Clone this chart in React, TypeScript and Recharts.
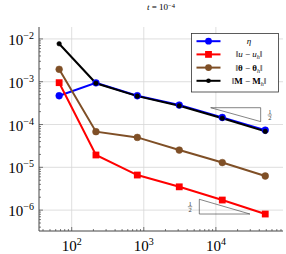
import React from 'react';
import { LineChart, Line, XAxis, YAxis, CartesianGrid, Legend, ReferenceLine, ReferenceDot } from 'recharts';

const FONT = '"Liberation Serif", "DejaVu Serif", serif';

const dofs = [67, 217, 813, 3105, 12270, 48400];
const etaVals = [4.7e-4, 9.4e-4, 4.7e-4, 2.85e-4, 1.46e-4, 7.4e-5];
const uVals = [9.5e-4, 1.94e-5, 6.6e-6, 3.5e-6, 1.72e-6, 8.1e-7];
const thetaVals = [1.95e-3, 6.8e-5, 5.0e-5, 2.53e-5, 1.29e-5, 6.27e-6];
const mVals = [7.7e-3, 9.2e-4, 4.6e-4, 2.75e-4, 1.4e-4, 6.9e-5];

const xDomain = [35.2, 85300];
const yDomain = [3.25e-7, 1.9e-2];

const xMajorTicks = [100, 1000, 10000];
const xMajorLabels = ['2', '3', '4'];
const xMinorTicks = [
  40, 50, 60, 70, 80, 90,
  200, 300, 400, 500, 600, 700, 800, 900,
  2000, 3000, 4000, 5000, 6000, 7000, 8000, 9000,
  20000, 30000, 40000, 50000, 60000, 70000, 80000,
];
const yMajorTicks = [1e-6, 1e-5, 1e-4, 1e-3, 1e-2];
const yMajorLabels = ['−6', '−5', '−4', '−3', '−2'];
const yMinorTicks = [
  4e-7, 5e-7, 6e-7, 7e-7, 8e-7, 9e-7,
  2e-6, 3e-6, 4e-6, 5e-6, 6e-6, 7e-6, 8e-6, 9e-6,
  2e-5, 3e-5, 4e-5, 5e-5, 6e-5, 7e-5, 8e-5, 9e-5,
  2e-4, 3e-4, 4e-4, 5e-4, 6e-4, 7e-4, 8e-4, 9e-4,
  2e-3, 3e-3, 4e-3, 5e-3, 6e-3, 7e-3, 8e-3, 9e-3,
];

// slope triangles (data coords)
const tri1 = { x0: 8470, x1: 41800, yTop: 2.47e-4, yBot: 1.17e-4, lx: 56000, ly: 1.67e-4 };
const tri2 = { x0: 5890, x1: 29700, yTop: 1.79e-6, yBot: 8.1e-7, lx: 4380, ly: 1.2e-6 };

const data = dofs.map((x, i) => ({ x, eta: etaVals[i], u: uVals[i], theta: thetaVals[i], m: mVals[i] }));

const allX = [...xMinorTicks, ...xMajorTicks].sort((a, b) => a - b);
const allY = [...yMinorTicks, ...yMajorTicks].sort((a, b) => a - b);

const FRAME = '#444';
const isMajor = (v: number) => Math.abs(Math.log10(v) - Math.round(Math.log10(v))) < 1e-6;

const BottomTick = (p: any) => {
  const v = p.payload.value;
  const major = isMajor(v);
  const len = major ? 4 : 2;
  const idx = xMajorTicks.findIndex((t) => Math.abs(t - v) < 1e-9 * t);
  return (
    <g>
      <line x1={p.x} x2={p.x} y1={p.y} y2={p.y - len} stroke={FRAME} strokeWidth={0.7} />
      {major && idx >= 0 && (
        <text x={p.x} y={p.y + 19.5} textAnchor="middle" fontSize={15} fontFamily={FONT} fill="#000">
          10<tspan dy={-6} fontSize={10}>{xMajorLabels[idx]}</tspan>
        </text>
      )}
    </g>
  );
};

const TopTick = (p: any) => {
  const major = isMajor(p.payload.value);
  const len = major ? 4 : 2;
  return <line x1={p.x} x2={p.x} y1={p.y} y2={p.y + len} stroke={FRAME} strokeWidth={0.7} />;
};

const LeftTick = (p: any) => {
  const v = p.payload.value;
  const major = isMajor(v);
  const len = major ? 4 : 2;
  const idx = yMajorTicks.findIndex((t) => Math.abs(t - v) < 1e-6 * t);
  return (
    <g>
      <line x1={p.x} x2={p.x + len} y1={p.y} y2={p.y} stroke={FRAME} strokeWidth={0.7} />
      {major && idx >= 0 && (
        <text x={p.x - 5} y={p.y + 6} textAnchor="end" fontSize={15} fontFamily={FONT} fill="#000">
          10<tspan dy={-6} fontSize={10}>{yMajorLabels[idx]}</tspan>
        </text>
      )}
    </g>
  );
};

const RightTick = (p: any) => {
  const major = isMajor(p.payload.value);
  const len = major ? 4 : 2;
  return <line x1={p.x} x2={p.x - len} y1={p.y} y2={p.y} stroke={FRAME} strokeWidth={0.7} />;
};

const circleDot = (color: string, r: number) => (p: any) => {
  if (p.cx == null || p.cy == null) return <g key={p.index} />;
  return <circle key={p.index} cx={p.cx} cy={p.cy} r={r} fill={color} stroke={color} strokeWidth={0.5} />;
};
const squareDot = (color: string, s: number) => (p: any) => {
  if (p.cx == null || p.cy == null) return <g key={p.index} />;
  return <rect key={p.index} x={p.cx - s / 2} y={p.cy - s / 2} width={s} height={s} fill={color} />;
};

const fracShape = (p: any) => (
  <g>
    <text x={p.cx} y={p.cy - 1.2} textAnchor="middle" fontSize={6.5} fontFamily={FONT} fill="#333">1</text>
    <line x1={p.cx - 2.2} x2={p.cx + 2.2} y1={p.cy} y2={p.cy} stroke="#333" strokeWidth={0.5} />
    <text x={p.cx} y={p.cy + 5.4} textAnchor="middle" fontSize={6.5} fontFamily={FONT} fill="#333">2</text>
  </g>
);

const legendRows = [
  { key: 'eta', color: '#0000ff', shape: 'circle', r: 3.4 },
  { key: 'u', color: '#ff0000', shape: 'square', r: 3.4 },
  { key: 'theta', color: '#7f4f26', shape: 'circle', r: 3.4 },
  { key: 'm', color: '#000000', shape: 'circle', r: 2.3 },
];

const LegendLabel = ({ k, x, y }: { k: string; x: number; y: number }) => {
  const common = { x, y, textAnchor: 'middle' as const, fontSize: 9, fontFamily: FONT, fill: '#000' };
  if (k === 'eta') return <text {...common}><tspan fontStyle="italic">η</tspan></text>;
  if (k === 'u')
    return (
      <text {...common}>
        ‖<tspan fontStyle="italic">u</tspan> − <tspan fontStyle="italic">u</tspan>
        <tspan fontStyle="italic" fontSize={6} dy={2}>h</tspan><tspan dy={-2}>‖</tspan>
      </text>
    );
  if (k === 'theta')
    return (
      <text {...common}>
        ‖<tspan fontWeight="bold">θ</tspan> − <tspan fontWeight="bold">θ</tspan>
        <tspan fontStyle="italic" fontSize={6} dy={2}>h</tspan><tspan dy={-2}>‖</tspan>
      </text>
    );
  return (
    <text {...common}>
      ‖<tspan fontWeight="bold">M</tspan> − <tspan fontWeight="bold">M</tspan>
      <tspan fontStyle="italic" fontSize={6} dy={2}>h</tspan><tspan dy={-2}>‖</tspan>
    </text>
  );
};

const LegendBox = () => {
  const W = 87;
  const H = 58.5;
  const rowsY = [8.2, 21.4, 34.6, 47.8];
  return (
    <svg width={W + 1} height={H + 1} style={{ display: 'block' }}>
      <rect x={0.5} y={0.5} width={W} height={H} fill="#fff" stroke="#333" strokeWidth={0.8} />
      {legendRows.map((row, i) => (
        <g key={row.key}>
          <line x1={5.5} x2={29.5} y1={rowsY[i]} y2={rowsY[i]} stroke={row.color} strokeWidth={2} />
          {row.shape === 'circle' ? (
            <circle cx={17.5} cy={rowsY[i]} r={row.r} fill={row.color} />
          ) : (
            <rect x={17.5 - row.r} y={rowsY[i] - row.r} width={row.r * 2} height={row.r * 2} fill={row.color} />
          )}
          <LegendLabel k={row.key} x={58} y={rowsY[i] + 3} />
        </g>
      ))}
    </svg>
  );
};

export default function App() {
  return (
    <div style={{ position: 'absolute', left: 0, top: 0, width: 286, height: 254 }}>
      <div
        style={{
          position: 'absolute', left: 39, top: 1, width: 244, textAlign: 'center',
          fontFamily: FONT, fontSize: 9, lineHeight: '12px', color: '#000',
        }}
      >
        <i>t</i> = 10<sup style={{ fontSize: 6.5, verticalAlign: 'top', position: 'relative', top: -1 }}>−4</sup>
      </div>
      <LineChart width={286} height={254} data={data} margin={{ top: 27, right: 3, bottom: 0, left: 0 }}>
        <CartesianGrid
          xAxisId="b" yAxisId="l" stroke="#d6d6d6" strokeWidth={0.8}
          verticalValues={xMajorTicks} horizontalValues={yMajorTicks}
        />
        <XAxis
          xAxisId="b" dataKey="x" type="number" scale="log" domain={xDomain} allowDataOverflow
          ticks={allX} interval={0} tickSize={0} tickMargin={0} height={23}
          axisLine={{ stroke: FRAME, strokeWidth: 1 }} tickLine={false} tick={BottomTick}
        />
        <XAxis
          xAxisId="t" orientation="top" dataKey="x" type="number" scale="log" domain={xDomain} allowDataOverflow
          ticks={allX} interval={0} tickSize={0} tickMargin={0} height={0}
          axisLine={{ stroke: FRAME, strokeWidth: 1 }} tickLine={false} tick={TopTick}
        />
        <YAxis
          yAxisId="l" orientation="left" type="number" scale="log" domain={yDomain} allowDataOverflow
          ticks={allY} interval={0} tickSize={0} tickMargin={0} width={39}
          axisLine={{ stroke: FRAME, strokeWidth: 1 }} tickLine={false} tick={LeftTick}
        />
        <YAxis
          yAxisId="r" orientation="right" type="number" scale="log" domain={yDomain} allowDataOverflow
          ticks={allY} interval={0} tickSize={0} tickMargin={0} width={0}
          axisLine={{ stroke: FRAME, strokeWidth: 1 }} tickLine={false} tick={RightTick}
        />
        <Line xAxisId="b" yAxisId="l" type="linear" dataKey="eta" stroke="#0000ff" strokeWidth={2}
          dot={circleDot('#0000ff', 3.4)} activeDot={false} isAnimationActive={false} />
        <Line xAxisId="b" yAxisId="l" type="linear" dataKey="u" stroke="#ff0000" strokeWidth={2}
          dot={squareDot('#ff0000', 6.8)} activeDot={false} isAnimationActive={false} />
        <Line xAxisId="b" yAxisId="l" type="linear" dataKey="theta" stroke="#7f4f26" strokeWidth={2}
          dot={circleDot('#7f4f26', 3.4)} activeDot={false} isAnimationActive={false} />
        <Line xAxisId="b" yAxisId="l" type="linear" dataKey="m" stroke="#000000" strokeWidth={2}
          dot={circleDot('#000000', 2.3)} activeDot={false} isAnimationActive={false} />
        <ReferenceLine xAxisId="b" yAxisId="l" stroke="#333" strokeWidth={0.6}
          segment={[{ x: tri1.x0, y: tri1.yTop }, { x: tri1.x1, y: tri1.yTop }]} />
        <ReferenceLine xAxisId="b" yAxisId="l" stroke="#333" strokeWidth={0.6}
          segment={[{ x: tri1.x1, y: tri1.yTop }, { x: tri1.x1, y: tri1.yBot }]} />
        <ReferenceLine xAxisId="b" yAxisId="l" stroke="#333" strokeWidth={0.6}
          segment={[{ x: tri1.x0, y: tri1.yTop }, { x: tri1.x1, y: tri1.yBot }]} />
        <ReferenceLine xAxisId="b" yAxisId="l" stroke="#333" strokeWidth={0.6}
          segment={[{ x: tri2.x0, y: tri2.yTop }, { x: tri2.x0, y: tri2.yBot }]} />
        <ReferenceLine xAxisId="b" yAxisId="l" stroke="#333" strokeWidth={0.6}
          segment={[{ x: tri2.x0, y: tri2.yBot }, { x: tri2.x1, y: tri2.yBot }]} />
        <ReferenceLine xAxisId="b" yAxisId="l" stroke="#333" strokeWidth={0.6}
          segment={[{ x: tri2.x0, y: tri2.yTop }, { x: tri2.x1, y: tri2.yBot }]} />
        <ReferenceDot xAxisId="b" yAxisId="l" x={tri1.lx} y={tri1.ly} r={0} shape={fracShape} />
        <ReferenceDot xAxisId="b" yAxisId="l" x={tri2.lx} y={tri2.ly} r={0} shape={fracShape} />
        <Legend
          layout="vertical" align="center" verticalAlign="middle"
          wrapperStyle={{ left: 191, top: 33, width: 88, height: 60 }}
          content={() => <LegendBox />}
        />
      </LineChart>
    </div>
  );
}
